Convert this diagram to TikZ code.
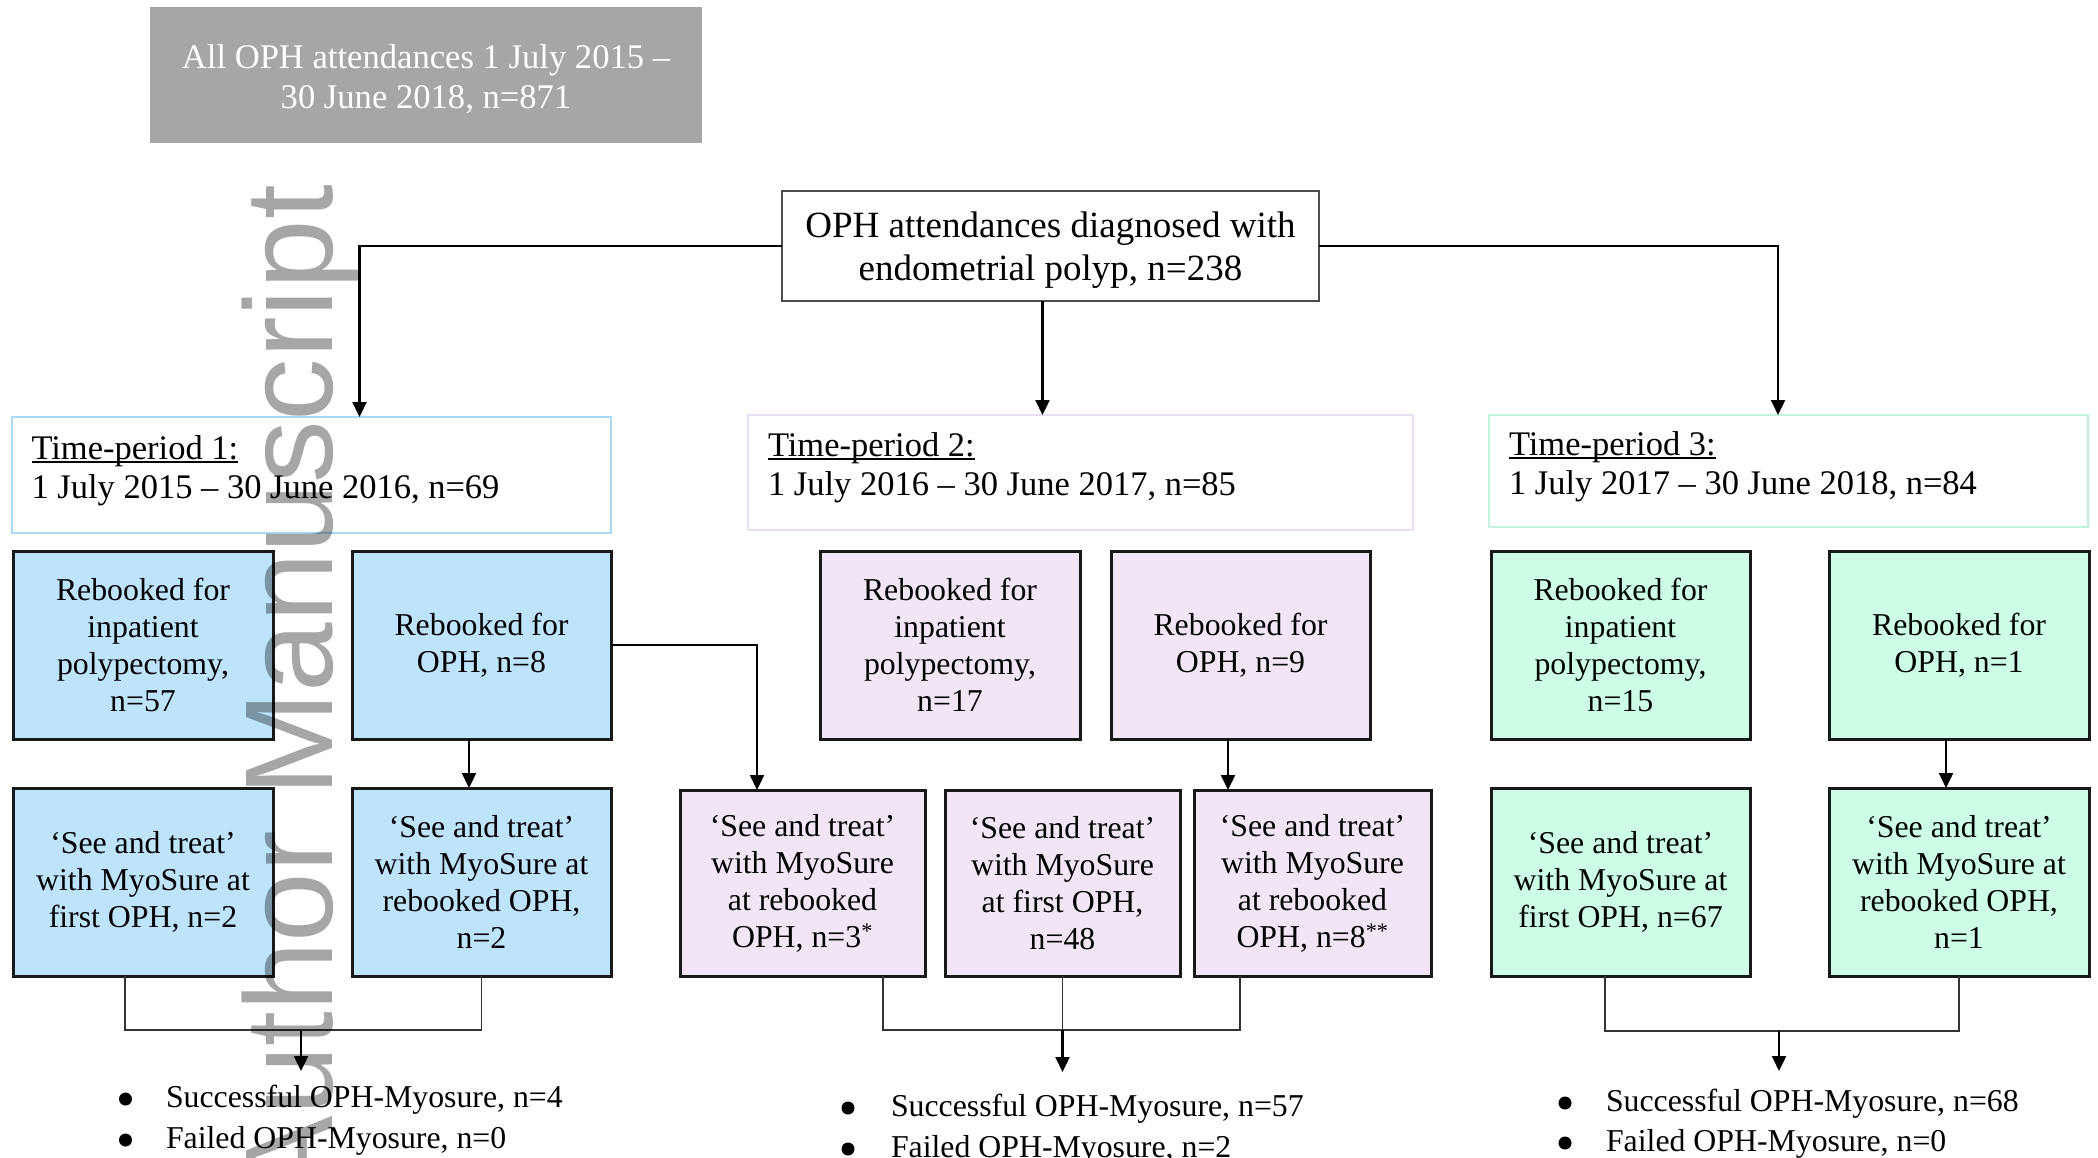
\documentclass[tikz,border=0pt]{standalone}
\usepackage{fontspec}
\setmainfont{Liberation Serif}
\newfontfamily\wmfont{Liberation Sans}
\usetikzlibrary{arrows.meta,calc}
\definecolor{bluefill}{HTML}{BDE4FC}
\definecolor{pinkfill}{HTML}{F2E5F6}
\definecolor{greenfill}{HTML}{CCFFE6}
\definecolor{tpblue}{HTML}{A9DAF7}
\definecolor{tppink}{HTML}{EDDFF3}
\definecolor{tpgreen}{HTML}{C2F3DC}
\definecolor{grayfill}{HTML}{A6A6A6}
\newcommand\ulx[1]{\setbox0\hbox{#1}\rlap{\rule[-0.12em]{\wd0}{0.05em}}\box0}
\begin{document}
\begin{tikzpicture}[x=1pt,y=-1pt,
  every node/.style={inner sep=0pt, outer sep=0pt},
  sz/.style n args={2}{minimum width=#1, minimum height=#2},
  boxtxt/.style={font=\fontsize{31.8}{37}\selectfont, align=center},
  fbox/.style={draw=black!90, line width=3pt, anchor=north west, boxtxt},
  tpbox/.style={line width=1.5pt, anchor=north west, fill=white},
  tptxt/.style={font=\fontsize{34.5}{39}\selectfont, anchor=base west},
  bul/.style={font=\fontsize{31.8}{37}\selectfont, anchor=base west},
  dot/.style={circle, fill=black, minimum size=13pt},
  arr/.style={line width=2.3pt, draw=black, -{Triangle[length=15pt,width=14pt]}},
  thinl/.style={line width=1.3pt, draw=black!80}]
\fill[white] (0,0) rectangle (2098,1158);
\useasboundingbox (0,0) rectangle (2098,1158);

% top boxes
\node[fill=grayfill, sz={552}{136}, anchor=north west] (all) at (150,7) {};
\node[text=white, font=\fontsize{34.6}{40}\selectfont, align=center] (alltxt)
      at ([yshift=-4pt]all.center) {All OPH attendances 1 July 2015 –\\30 June 2018, n=871};
\node[draw=black!70, line width=1.5pt, sz={537}{110}, anchor=north west] (oph) at (782,191) {};
\node[font=\fontsize{37}{43}\selectfont, align=center] (ophtxt)
      at ([yshift=-4pt]oph.center) {OPH attendances diagnosed with\\endometrial polyp, n=238};

% time-period boxes
\node[tpbox, draw=tpblue, sz={599}{116}] (tp1) at (12,417) {};
\node[tpbox, draw=tppink, sz={665}{115}] (tp2) at (748,415) {};
\node[tpbox, draw=tpgreen, sz={599}{112}] (tp3) at (1489,415) {};
\node[tptxt] (tp1a) at (31.5,459) {\ulx{Time-period 1:}};
\node[tptxt] (tp1b) at (31.5,498) {1 July 2015 – 30 June 2016, n=69};
\node[tptxt] (tp2a) at (768,456) {\ulx{Time-period 2:}};
\node[tptxt] (tp2b) at (768,495) {1 July 2016 – 30 June 2017, n=85};
\node[tptxt] (tp3a) at (1509,455) {\ulx{Time-period 3:}};
\node[tptxt] (tp3b) at (1509,494) {1 July 2017 – 30 June 2018, n=84};

% row 1
\node[fbox, fill=bluefill, sz={260}{188}] (bA) at (13,551)
  {Rebooked for\\inpatient\\polypectomy,\\n=57};
\node[fbox, fill=bluefill, sz={259}{188}] (bB) at (352,551)
  {Rebooked for\\OPH, n=8};
\node[fbox, fill=pinkfill, sz={260}{188}] (pA) at (820,551)
  {Rebooked for\\inpatient\\polypectomy,\\n=17};
\node[fbox, fill=pinkfill, sz={259}{188}] (pB) at (1111,551)
  {Rebooked for\\OPH, n=9};
\node[fbox, fill=greenfill, sz={259}{188}] (gA) at (1491,551)
  {Rebooked for\\inpatient\\polypectomy,\\n=15};
\node[fbox, fill=greenfill, sz={260}{188}] (gB) at (1829,551)
  {Rebooked for\\OPH, n=1};

% row 2
\node[fbox, fill=bluefill, sz={260}{188}] (bC) at (13,788)
  {‘See and treat’\\with MyoSure at\\first OPH, n=2};
\node[fbox, fill=bluefill, sz={259}{188}] (bD) at (352,788)
  {‘See and treat’\\with MyoSure at\\rebooked OPH,\\n=2};
\node[fbox, fill=pinkfill, sz={245}{186}] (pC) at (680,790)
  {‘See and treat’\\with MyoSure\\at rebooked\\OPH, n=3\textsuperscript{*}};
\node[fbox, fill=pinkfill, sz={235}{186}] (pE) at (945,790)
  {‘See and treat’\\with MyoSure\\at first OPH,\\n=48};
\node[fbox, fill=pinkfill, sz={237}{186}] (pD) at (1194,790)
  {‘See and treat’\\with MyoSure\\at rebooked\\OPH, n=8\textsuperscript{**}};
\node[fbox, fill=greenfill, sz={259}{188}] (gC) at (1491,788)
  {‘See and treat’\\with MyoSure at\\first OPH, n=67};
\node[fbox, fill=greenfill, sz={260}{188}] (gD) at (1829,788)
  {‘See and treat’\\with MyoSure at\\rebooked OPH,\\n=1};

% arrows from top
\draw[arr] (oph.west) -| ([xshift=48pt]tp1.north);
\draw[arr] ([xshift=-8pt]oph.south) -- ([xshift=-8pt]oph.south |- tp2.north);
\draw[arr] (oph.east) -| ([xshift=-10.5pt]tp3.north);

% rebooked arrows
\draw[arr] ([xshift=-12.5pt]bB.south) -- ([xshift=-12.5pt]bD.north);
\draw[arr] (bB.east) -| ([xshift=-45.5pt]pC.north);
\draw[arr] ([xshift=-12.5pt]pB.south) -- ([xshift=-12.5pt]pB.south |- pD.north);
\draw[arr] ([xshift=-13pt]gB.south) -- ([xshift=-13pt]gD.north);

% brackets
\coordinate (bj) at (301,1030);
\coordinate (pj) at (1062,1030);
\coordinate (gj) at (1779,1031);
\draw[thinl] ([xshift=-18pt]bC.south) |- (bj) -| (bD.south);
\draw[thinl] ([xshift=80.5pt]pC.south) |- (pj) -| ([xshift=-72.5pt]pD.south);
\draw[thinl] (pE.south) -- (pE.south |- pj);
\draw[thinl] ([xshift=-15.5pt]gC.south) |- (gj) -| (gD.south);
\draw[arr] (bj) -- ++(0,41);
\draw[arr] (pE.south |- pj) -- ++(0,42);
\draw[arr] (gj) -- ++(0,40);

% outcome bullets
\node[dot] (bd1) at (125.5,1099) {};
\node[dot] (bd2) at (125.5,1140) {};
\node[bul] (b1) at (166,1107) {Successful OPH-Myosure, n=4};
\node[bul] (b2) at (166,1148) {Failed OPH-Myosure, n=0};
\node[dot] (pd1) at (848,1108) {};
\node[dot] (pd2) at (848,1149) {};
\node[bul] (p1) at (891,1116) {Successful OPH-Myosure, n=57};
\node[bul] (p2) at (891,1157) {Failed OPH-Myosure, n=2};
\node[dot] (gd1) at (1565,1103) {};
\node[dot] (gd2) at (1565,1143) {};
\node[bul] (g1) at (1606,1111) {Successful OPH-Myosure, n=68};
\node[bul] (g2) at (1606,1151) {Failed OPH-Myosure, n=0};

% watermark
\node[font=\wmfont\fontsize{125}{125}\selectfont, rotate=90, anchor=base east,
      text=black, opacity=0.35] (wm) at (332,185) {Author Manuscript};
\end{tikzpicture}
\end{document}
